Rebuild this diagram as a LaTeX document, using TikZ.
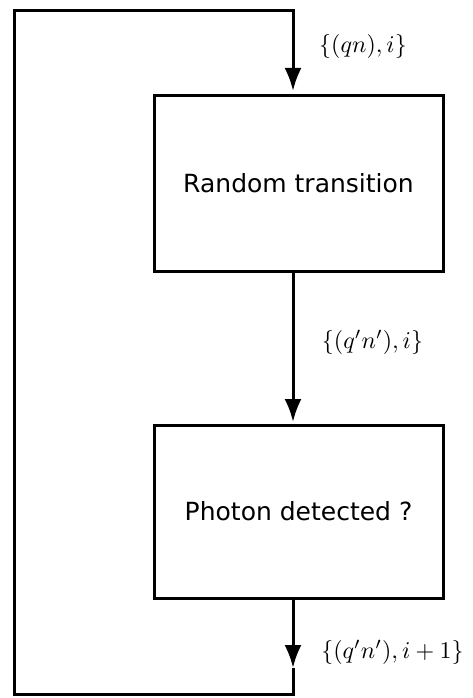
\documentclass[tikz,border=0pt]{standalone}
\usepackage{fontspec}
\newfontfamily\boxfont{DejaVu Sans}
\usetikzlibrary{arrows.meta}
\begin{document}
\begin{tikzpicture}[x=1pt,y=-1pt,
  flowbox/.style={draw=black, line width=3pt, rectangle, inner sep=0pt,
    minimum width=289pt, font=\boxfont\fontsize{25}{30}\selectfont},
  conn/.style={line width=3pt, line join=miter, -{Latex[length=23pt,width=17pt]}},
  lbl/.style={scale=2.4, inner sep=0pt}]
\useasboundingbox (0,0) rectangle (472,698);
\node[flowbox, minimum height=175pt] (b1) at (298.5,183.5) {Random transition};
\node[flowbox, minimum height=173pt] (b2) at (298.5,511.5) {Photon detected ?};
\coordinate (t1) at (293,91);
\coordinate (s2) at (293,271);
\coordinate (t2) at (293,422);
\coordinate (s3) at (293,598);
\coordinate (t3) at (293,668);
\coordinate (br) at (293,694.5);
\coordinate (bl) at (14,694.5);
\coordinate (tl) at (14,11);
\coordinate (tr) at (293,11);
\draw[conn] (s2) -- (t2);
\draw[conn] (s3) -- (t3);
\draw[conn] (t3) -- (br) -- (bl) -- (tl) -- (tr) -- (t1);
\node[lbl] (l1) at (363,47) {$\{(qn),i\}$};
\node[lbl] (l2) at (372.5,342) {$\{(q'n'),i\}$};
\node[lbl] (l3) at (392.5,652) {$\{(q'n'),i+1\}$};
\end{tikzpicture}
\end{document}
